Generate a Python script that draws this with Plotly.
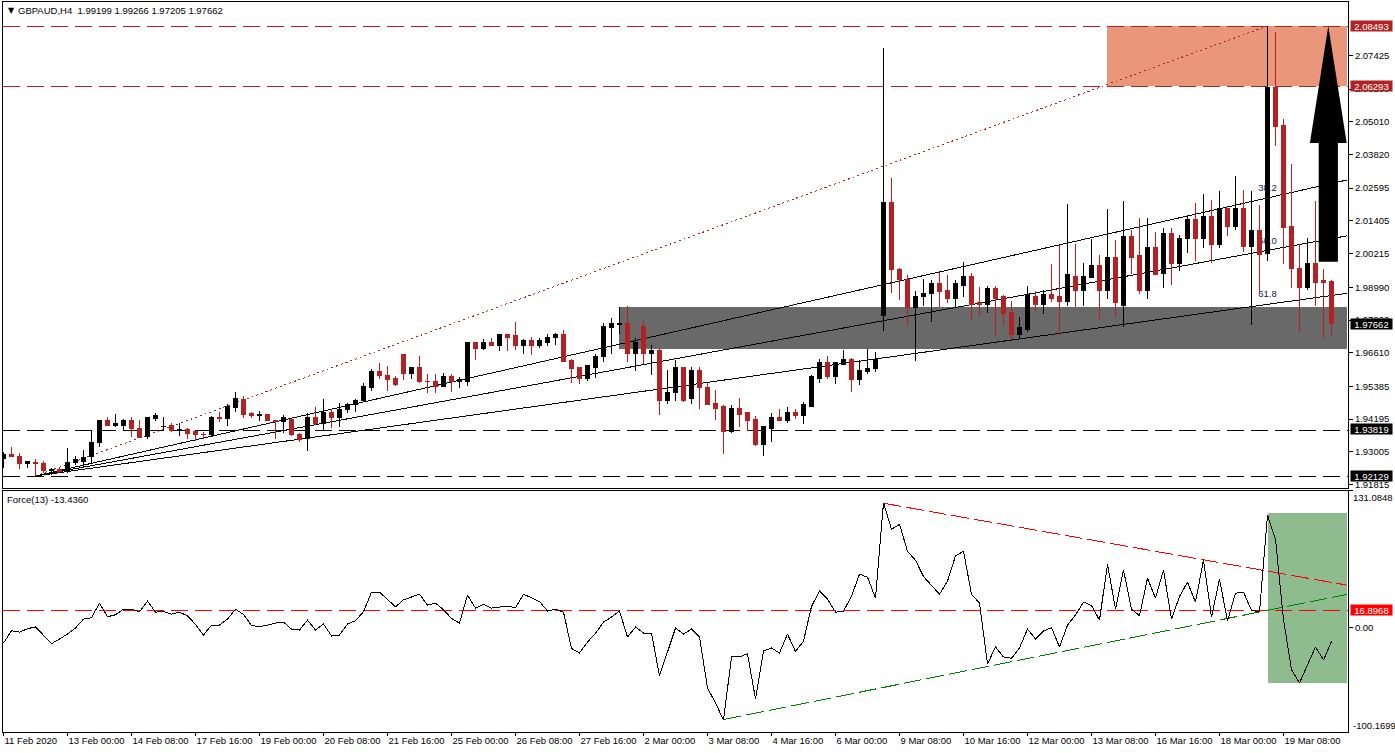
import math
import plotly.graph_objects as go
from plotly.subplots import make_subplots

# ---------------------------------
# Bougies GBPAUD H4
# ---------------------------------
opens = [
    1.9275, 1.9292, 1.9285, 1.9258, 1.9262, 1.9260, 1.9232, 1.9238, 1.9228, 1.9261,
    1.9267, 1.9282, 1.9334, 1.9416, 1.9398, 1.9398, 1.9413, 1.9387, 1.9356, 1.9421,
    1.9391, 1.9395, 1.9379, 1.9383, 1.9373, 1.9365, 1.9363, 1.9425, 1.9421, 1.9461,
    1.9491, 1.9439, 1.9432, 1.9437, 1.9415, 1.9411, 1.9420, 1.9364, 1.9350, 1.9427,
    1.9404, 1.9442, 1.9424, 1.9453, 1.9471, 1.9486, 1.9533, 1.9591, 1.9580, 1.9566,
    1.9653, 1.9584, 1.9606, 1.9558, 1.9558, 1.9540, 1.9573, 1.9556, 1.9558, 1.9697,
    1.9678, 1.9700, 1.9689, 1.9729, 1.9722, 1.9689, 1.9704, 1.9689, 1.9700, 1.9715,
    1.9726, 1.9631, 1.9606, 1.9569, 1.9609, 1.9646, 1.9751, 1.9762, 1.9769, 1.9657,
    1.9758, 1.9660, 1.9668, 1.9489, 1.9515, 1.9606, 1.9496, 1.9598, 1.9536, 1.9478,
    1.9464, 1.9376, 1.9460, 1.9442, 1.9420, 1.9329, 1.9387, 1.9427, 1.9413, 1.9445,
    1.9431, 1.9467, 1.9569, 1.9624, 1.9573, 1.9620, 1.9635, 1.9565, 1.9591, 1.9602,
    1.9798, 2.0206, 1.9962, 1.9929, 1.9827, 1.9864, 1.9875, 1.9911, 1.9889, 1.9860,
    1.9907, 1.9940, 1.9842, 1.9835, 1.9896, 1.9864, 1.9806, 1.9726, 1.9747, 1.9867,
    1.9838, 1.9871, 1.9864, 1.9849, 1.9937, 1.9886, 1.9933, 1.9977, 1.9886, 2.0006,
    1.9831, 2.0082, 2.0013, 1.9889, 2.0042, 1.9951, 2.0093, 1.9987, 2.0075, 2.0144,
    2.0078, 2.0158, 2.0053, 2.0187, 2.0119, 2.0184, 2.0046, 2.0107, 2.0021, 2.0627,
    2.0486, 2.0119, 1.9969, 1.9897, 1.9987, 1.9922, 1.99199,
]
highs = [
    1.9301, 1.9318, 1.9297, 1.9266, 1.9274, 1.9266, 1.9243, 1.9244, 1.9313, 1.9285,
    1.9307, 1.9379, 1.9415, 1.9426, 1.9438, 1.9420, 1.9426, 1.9416, 1.9424, 1.9442,
    1.9427, 1.9404, 1.9404, 1.9389, 1.9373, 1.9373, 1.9430, 1.9444, 1.9473, 1.9517,
    1.9503, 1.9446, 1.9449, 1.9437, 1.9415, 1.9433, 1.9420, 1.9370, 1.9441, 1.9464,
    1.9493, 1.9456, 1.9477, 1.9478, 1.9494, 1.9550, 1.9601, 1.9624, 1.9613, 1.9577,
    1.9653, 1.9606, 1.9649, 1.9584, 1.9584, 1.9588, 1.9584, 1.9573, 1.9697, 1.9697,
    1.9711, 1.9715, 1.9729, 1.9729, 1.9773, 1.9711, 1.9718, 1.9715, 1.9729, 1.9733,
    1.9744, 1.9638, 1.9609, 1.9617, 1.9657, 1.9769, 1.9788, 1.9828, 1.9831, 1.9715,
    1.9780, 1.9689, 1.9678, 1.9598, 1.9635, 1.9609, 1.9609, 1.9609, 1.9551, 1.9526,
    1.9471, 1.9471, 1.9496, 1.9442, 1.9431, 1.9395, 1.9442, 1.9456, 1.9464, 1.9456,
    1.9482, 1.9580, 1.9638, 1.9649, 1.9624, 1.9671, 1.9642, 1.9635, 1.9675, 1.9664,
    2.0769, 2.0297, 1.9969, 1.9944, 1.9885, 1.9929, 1.9926, 1.9955, 1.9944, 1.9926,
    1.9991, 1.9951, 1.9900, 1.9904, 1.9904, 1.9871, 1.9849, 1.9791, 1.9904, 1.9886,
    1.9889, 1.9984, 2.0053, 2.0202, 2.0057, 1.9987, 2.0075, 2.0017, 2.0184, 2.0071,
    2.0213, 2.0107, 2.0151, 2.0151, 2.0100, 2.0115, 2.0115, 2.0089, 2.0162, 2.0206,
    2.0238, 2.0217, 2.0249, 2.0187, 2.0304, 2.0253, 2.0249, 2.0198, 2.0849, 2.0827,
    2.0511, 2.0347, 2.0057, 2.0078, 2.0213, 1.9966, 1.99266,
]
lows = [
    1.9243, 1.9283, 1.9240, 1.9243, 1.9214, 1.9223, 1.9217, 1.9225, 1.9225, 1.9254,
    1.9243, 1.9259, 1.9319, 1.9398, 1.9391, 1.9379, 1.9356, 1.9353, 1.9348, 1.9414,
    1.9379, 1.9373, 1.9358, 1.9348, 1.9339, 1.9346, 1.9358, 1.9408, 1.9395, 1.9447,
    1.9425, 1.9424, 1.9413, 1.9412, 1.9348, 1.9370, 1.9359, 1.9336, 1.9303, 1.9397,
    1.9380, 1.9387, 1.9392, 1.9443, 1.9446, 1.9486, 1.9523, 1.9566, 1.9522, 1.9540,
    1.9562, 1.9566, 1.9551, 1.9515, 1.9515, 1.9537, 1.9518, 1.9533, 1.9540, 1.9635,
    1.9671, 1.9686, 1.9668, 1.9668, 1.9671, 1.9657, 1.9653, 1.9678, 1.9686, 1.9689,
    1.9628, 1.9551, 1.9548, 1.9558, 1.9569, 1.9628, 1.9657, 1.9729, 1.9628, 1.9595,
    1.9620, 1.9580, 1.9435, 1.9475, 1.9486, 1.9482, 1.9475, 1.9456, 1.9471, 1.9416,
    1.9293, 1.9369, 1.9391, 1.9376, 1.9322, 1.9286, 1.9337, 1.9413, 1.9405, 1.9420,
    1.9402, 1.9467, 1.9551, 1.9565, 1.9547, 1.9616, 1.9518, 1.9544, 1.9584, 1.9591,
    1.9740, 1.9878, 1.9853, 1.9758, 1.9631, 1.9831, 1.9773, 1.9827, 1.9842, 1.9824,
    1.9864, 1.9780, 1.9795, 1.9806, 1.9722, 1.9758, 1.9707, 1.9711, 1.9737, 1.9813,
    1.9802, 1.9846, 1.9726, 1.9831, 1.9827, 1.9831, 1.9933, 1.9784, 1.9857, 1.9791,
    1.9755, 1.9947, 1.9875, 1.9857, 1.9944, 1.9897, 1.9908, 1.9958, 2.0024, 1.9995,
    2.0042, 1.9987, 2.0042, 2.0086, 2.0107, 2.0027, 1.9762, 1.9882, 1.9995, 2.0413,
    1.9984, 1.9897, 1.9737, 1.9889, 1.9831, 1.9715, 1.97205,
]
closes = [
    1.9292, 1.9283, 1.9258, 1.9266, 1.9258, 1.9232, 1.9238, 1.9230, 1.9262, 1.9271,
    1.9280, 1.9335, 1.9415, 1.9398, 1.9402, 1.9413, 1.9384, 1.9354, 1.9424, 1.9431,
    1.9393, 1.9380, 1.9383, 1.9369, 1.9363, 1.9363, 1.9424, 1.9421, 1.9464, 1.9493,
    1.9435, 1.9431, 1.9437, 1.9414, 1.9411, 1.9424, 1.9362, 1.9347, 1.9427, 1.9404,
    1.9442, 1.9424, 1.9456, 1.9471, 1.9489, 1.9537, 1.9591, 1.9577, 1.9562, 1.9544,
    1.9584, 1.9606, 1.9555, 1.9555, 1.9540, 1.9573, 1.9555, 1.9562, 1.9697, 1.9678,
    1.9700, 1.9686, 1.9729, 1.9718, 1.9689, 1.9704, 1.9689, 1.9704, 1.9718, 1.9726,
    1.9628, 1.9602, 1.9569, 1.9613, 1.9649, 1.9755, 1.9766, 1.9769, 1.9657, 1.9697,
    1.9660, 1.9668, 1.9486, 1.9518, 1.9606, 1.9489, 1.9598, 1.9533, 1.9471, 1.9460,
    1.9376, 1.9460, 1.9438, 1.9416, 1.9329, 1.9391, 1.9427, 1.9416, 1.9445, 1.9431,
    1.9471, 1.9573, 1.9624, 1.9573, 1.9624, 1.9635, 1.9565, 1.9595, 1.9605, 1.9638,
    2.0206, 1.9962, 1.9926, 1.9827, 1.9867, 1.9878, 1.9911, 1.9885, 1.9860, 1.9911,
    1.9940, 1.9838, 1.9835, 1.9896, 1.9860, 1.9802, 1.9726, 1.9751, 1.9871, 1.9838,
    1.9871, 1.9860, 1.9846, 1.9947, 1.9886, 1.9937, 1.9980, 1.9889, 2.0006, 1.9842,
    2.0082, 2.0009, 1.9889, 2.0042, 1.9947, 2.0093, 1.9987, 2.0078, 2.0144, 2.0078,
    2.0155, 2.0053, 2.0187, 2.0119, 2.0184, 2.0046, 2.0107, 2.0020, 2.0627, 2.0482,
    2.0115, 1.9966, 1.9897, 1.9987, 1.9918, 1.9915, 1.97662,
]

# Force(13)
force = [
    -15.0, -3.2, -4.5, -1.3, 0.6, -7.3, -15.6, -11.1, -6.4, -0.6,
    8.0, 9.2, 23.2, 10.2, 12.1, 17.5, 17.5, 15.0, 25.2, 14.6,
    15.3, 12.7, 14.6, 11.1, 2.9, -7.3, 2.2, 2.2, 8.0, 17.5,
    12.4, 1.9, 0.6, 2.2, 4.1, 5.1, -1.6, -2.5, 7.0, -2.5,
    3.2, -8.3, -7.3, 3.2, 6.4, 15.0, 33.8, 33.8, 27.1, 19.7,
    26.4, 29.3, 31.8, 21.3, 23.2, 16.9, 8.6, 4.1, 30.9, 18.5,
    22.3, 18.5, 19.4, 20.4, 18.8, 31.8, 28.3, 24.8, 15.6, 17.5,
    14.6, -20.1, -24.5, -14.0, -5.7, 5.1, 9.9, 15.6, -9.2, 0.3,
    -5.4, -5.4, -46.5, -23.6, -0.6, -6.4, -1.6, -9.2, -58.0, -72.3,
    -88.9, -28.3, -28.3, -25.2, -68.5, -22.6, -19.7, -24.5, -6.4, -23.2,
    -13.1, 20.1, 34.7, 27.1, 14.6, 15.6, 29.9, 51.0, 48.1, 28.0,
    119.4, 93.9, 98.7, 72.9, 64.3, 48.7, 39.8, 31.8, 44.3, 68.5,
    72.9, 31.8, 23.2, -35.0, -18.8, -28.3, -29.6, -19.7, -1.6, -11.1,
    -3.5, -0.3, -18.8, 2.2, 11.8, 24.2, 21.0, 7.0, 60.5, 17.5,
    54.8, 17.5, 11.1, 47.1, 28.0, 54.8, 8.0, 29.6, 43.3, 24.2,
    64.6, 9.9, 46.2, 6.1, 32.8, 33.8, 16.2, 15.0, 107.6, 84.4,
    7.3, -40.4, -53.2, -36.0, -18.8, -31.2, -13.4,
]

# Axes
date_ticks = list(range(0, 161, 8))
date_labels = [
    "11 Feb 2020", "13 Feb 00:00", "14 Feb 08:00", "17 Feb 16:00", "19 Feb 00:00",
    "20 Feb 08:00", "21 Feb 16:00", "25 Feb 00:00", "26 Feb 08:00", "27 Feb 16:00",
    "2 Mar 00:00", "3 Mar 08:00", "4 Mar 16:00", "6 Mar 00:00", "9 Mar 08:00",
    "10 Mar 16:00", "12 Mar 00:00", "13 Mar 08:00", "16 Mar 16:00", "18 Mar 00:00",
    "19 Mar 08:00",
]
price_ticks = [
    2.07425, 2.06200, 2.05010, 2.03820, 2.02595, 2.01405, 2.00215, 1.98990,
    1.97800, 1.96610, 1.95385, 1.94195, 1.93005, 1.91815,
]
force_ticks = [131.0848, 0.0]
force_tick_text = ["", "0.00"]

# Niveaux et objets dessinés
red_levels = [2.08493, 2.06293]
black_levels = [1.93819, 1.92129]
last_price = 1.97662
force_level = 16.8968
force_range = [-100.1699, 131.0848]
price_range = [1.91674, 2.09365]
x_range = [-0.0625, 168.0625]

fan_x = [4, 167.9]
fan_top = [1.92129, 2.08493]
fan_top_x = [4, 158]
fan_382 = [1.92129, 2.0289]
fan_500 = [1.92129, 2.0086]
fan_618 = [1.92129, 1.9877]
fan_names = ["38.2", "50.0", "61.8"]
fan_label_y = [2.0263, 2.0072, 1.9879]

gray_zone_x = [76.9, 167.9]
gray_zone_y = [1.96758, 1.98285]
orange_zone_x = [137.9, 167.9]
orange_zone_y = [2.06293, 2.08493]
green_zone_x = [158, 167.9]
green_zone_y = [-53.5, 109.9]

force_down_x = [110, 167.9]
force_down_y = [118.9, 40.5]
force_up_x = [90, 167.9]
force_up_y = [-88.2, 31.5]

arrow_x = [164.4, 164.4, 163.3, 165.6, 167.9, 166.8, 166.8, 164.4]
arrow_y = [1.9992, 2.0424, 2.0424, 2.08493, 2.0424, 2.0424, 1.9992, 1.9992]

RED = "#b22222"
FONT = "Liberation Sans"
FONT_SIZE = 9.5
idx = list(range(len(opens)))


def snap(value, val_range, top_px, bottom_px):
    """Cale un niveau horizontal sur une ligne de pixels, comme le fait MT4."""
    scale = (bottom_px - top_px) / (val_range[1] - val_range[0])
    row = math.floor(top_px + (val_range[1] - value) * scale + 0.52)
    return val_range[1] - (row + 0.5 - top_px) / scale


fig = make_subplots(rows=2, cols=1, shared_xaxes=False, vertical_spacing=0)

fig.add_trace(go.Candlestick(
    x=idx, open=opens, high=highs, low=lows, close=closes,
    increasing=dict(line=dict(color="black", width=1), fillcolor="black"),
    decreasing=dict(line=dict(color=RED, width=1), fillcolor=RED),
    whiskerwidth=0, showlegend=False,
), row=1, col=1)

# Flèche noire
fig.add_trace(go.Scatter(
    x=arrow_x, y=arrow_y, mode="lines", fill="toself", fillcolor="black",
    line=dict(color="black", width=0), hoverinfo="skip", showlegend=False,
), row=1, col=1)

fig.add_trace(go.Scatter(
    x=idx, y=force, mode="lines", line=dict(color="black", width=1),
    showlegend=False,
), row=2, col=1)

# ---------------------------------
# Objets sous les bougies
# ---------------------------------
fig.add_shape(type="rect", x0=gray_zone_x[0], x1=gray_zone_x[1], y0=gray_zone_y[0], y1=gray_zone_y[1],
              fillcolor="#696969", line_width=0, layer="below", row=1, col=1)
fig.add_shape(type="rect", x0=orange_zone_x[0], x1=orange_zone_x[1], y0=orange_zone_y[0], y1=orange_zone_y[1],
              fillcolor="#e9967a", line_width=0, layer="below", row=1, col=1)
fig.add_shape(type="rect", x0=green_zone_x[0], x1=green_zone_x[1], y0=green_zone_y[0], y1=green_zone_y[1],
              fillcolor="#8fbc8f", line_width=0, layer="below", row=2, col=1)

for lev in red_levels:
    y_line = snap(lev, price_range, 2, 488.5)
    fig.add_shape(type="line", x0=x_range[0], x1=x_range[1], y0=y_line, y1=y_line,
                  line=dict(color=RED, width=1, dash="17px,7px"), layer="below", row=1, col=1)
for lev in black_levels:
    y_line = snap(lev, price_range, 2, 488.5)
    fig.add_shape(type="line", x0=x_range[0], x1=x_range[1], y0=y_line, y1=y_line,
                  line=dict(color="black", width=1, dash="17px,7px"), layer="below", row=1, col=1)

fig.add_shape(type="line", x0=fan_top_x[0], x1=fan_top_x[1], y0=fan_top[0], y1=fan_top[1],
              line=dict(color=RED, width=1, dash="2px,3px"), layer="below", row=1, col=1)
for fan in (fan_382, fan_500, fan_618):
    fig.add_shape(type="line", x0=fan_x[0], x1=fan_x[1], y0=fan[0], y1=fan[1],
                  line=dict(color="black", width=1), layer="below", row=1, col=1)

# Étiquettes du fan : sous les bougies, comme sur MT4
for name, y_lab in zip(fan_names, fan_label_y):
    fig.add_shape(type="rect", x0=156.5, x1=159.5, y0=y_lab - 0.002, y1=y_lab + 0.002,
                  line_width=0, fillcolor="rgba(0,0,0,0)", layer="below",
                  label=dict(text=name, font=dict(family=FONT, size=FONT_SIZE, color="#10205a"),
                             textposition="middle center"),
                  row=1, col=1)

y_force = snap(force_level, force_range, 490.5, 732)
fig.add_shape(type="line", x0=x_range[0], x1=x_range[1], y0=y_force, y1=y_force,
              line=dict(color="#ff0000", width=1, dash="17px,7px"), layer="below", row=2, col=1)
fig.add_shape(type="line", x0=force_down_x[0], x1=force_down_x[1], y0=force_down_y[0], y1=force_down_y[1],
              line=dict(color="#ff0000", width=1, dash="18px,5px"), layer="below", row=2, col=1)
fig.add_shape(type="line", x0=force_up_x[0], x1=force_up_x[1], y0=force_up_y[0], y1=force_up_y[1],
              line=dict(color="#008000", width=1, dash="18px,5px"), layer="below", row=2, col=1)

# ---------------------------------
# Axes
# ---------------------------------
fig.update_xaxes(range=x_range, showgrid=False, zeroline=False, showline=True, mirror=True,
                 linecolor="black", linewidth=1, fixedrange=True, automargin=False)
fig.update_xaxes(rangeslider_visible=False, showticklabels=False, ticks="", row=1, col=1)
fig.update_xaxes(tickmode="array", tickvals=date_ticks, ticktext=date_labels, ticks="outside",
                 ticklen=3, tickcolor="black", ticklabelposition="outside right", tickangle=0,
                 tickfont=dict(family=FONT, size=FONT_SIZE, color="black"), row=2, col=1)

fig.update_yaxes(side="right", showgrid=False, zeroline=False, showline=True, mirror=True,
                 linecolor="black", linewidth=1, ticks="outside", ticklen=4, tickcolor="black",
                 tickfont=dict(family=FONT, size=FONT_SIZE, color="black"), fixedrange=True, automargin=False)
fig.update_yaxes(range=price_range, domain=[0.3336, 1], tickmode="array", tickvals=price_ticks,
                 ticktext=[f"{v:.5f}" for v in price_ticks], row=1, col=1)
fig.update_yaxes(range=force_range, domain=[0, 0.3308], tickmode="array", tickvals=force_ticks,
                 ticktext=force_tick_text, row=2, col=1)

# ---------------------------------
# Textes
# ---------------------------------
annotations = []
def price_tag(value, text, bg, yref):
    annotations.append(dict(
        x=1.0, xref="x domain" if yref == "y" else "x2 domain", y=value, yref=yref,
        text=text, showarrow=False, xanchor="left", xshift=2, bgcolor=bg, width=41, height=10,
        font=dict(family=FONT, size=FONT_SIZE, color="white"), borderpad=0,
    ))

for lev in red_levels:
    price_tag(lev, f"{lev:.5f}", RED, "y")
for lev in black_levels:
    price_tag(lev, f"{lev:.5f}", "black", "y")
price_tag(last_price, f"{last_price:.5f}", "black", "y")
price_tag(force_level, f"{force_level:.4f}", "#ff0000", "y2")

for val, txt, shift in [(force_range[1], "131.0848", -6.5), (force_range[0], "-100.1699", 6.5)]:
    annotations.append(dict(
        x=1.0, xref="x2 domain", y=val, yref="y2", text=txt, showarrow=False, xanchor="left",
        xshift=3, yshift=shift, font=dict(family=FONT, size=FONT_SIZE, color="black"),
    ))

annotations.append(dict(
    x=0, xref="paper", y=1, yref="paper", xshift=3, yshift=-2, text="▼", showarrow=False,
    xanchor="left", yanchor="top", font=dict(family="DejaVu Sans", size=8, color="black"),
))
annotations.append(dict(
    x=0, xref="paper", y=1, yref="paper", xshift=13, yshift=-1,
    text="GBPAUD,H4  1.99199 1.99266 1.97205 1.97662", showarrow=False,
    xanchor="left", yanchor="top", font=dict(family=FONT, size=FONT_SIZE, color="black"),
))
annotations.append(dict(
    x=0, xref="paper", y=0.3308, yref="paper", xshift=2, yshift=-1, text="Force(13) -13.4360",
    showarrow=False, xanchor="left", yanchor="top", font=dict(family=FONT, size=FONT_SIZE, color="black"),
))

fig.update_layout(
    width=1395, height=753,
    margin=dict(l=3, r=47, t=2, b=21),
    paper_bgcolor="white", plot_bgcolor="white",
    showlegend=False, boxgap=0.35, annotations=annotations, hovermode=False,
)

# marges de page à zéro, traits sans anticrénelage comme sur MT4
post = """document.body.style.margin='0';
document.querySelectorAll('.shapelayer path, .scatterlayer .js-line, .boxlayer path').forEach(function(p){
  p.style.shapeRendering='crispEdges';
});"""

fig.write_html("out.html", config={"displayModeBar": False}, post_script=post)
